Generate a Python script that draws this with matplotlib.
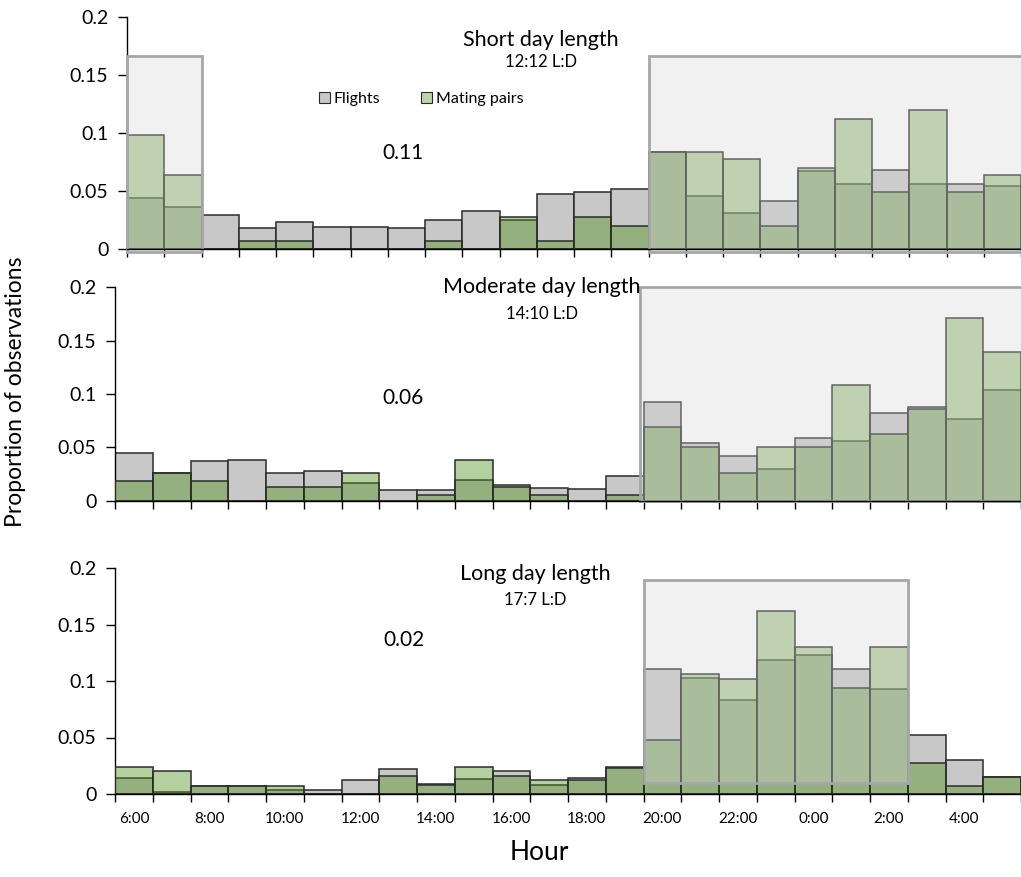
import numpy as np
import matplotlib
matplotlib.use("Agg")
import matplotlib.pyplot as plt
from matplotlib.patches import Rectangle, Patch

plt.rcParams["font.family"] = ["Lato", "DejaVu Sans"]

hour_labels = ["6:00", "8:00", "10:00", "12:00", "14:00", "16:00", "18:00",
               "20:00", "22:00", "0:00", "2:00", "4:00"]

# proportions per hour, 6:00 .. 5:00
short_flights = [0.044, 0.036, 0.029, 0.018, 0.023, 0.019, 0.019, 0.018, 0.025, 0.033, 0.025, 0.047,
                 0.049, 0.052, 0.084, 0.046, 0.031, 0.041, 0.067, 0.056, 0.068, 0.056, 0.056, 0.054]
short_mating = [0.098, 0.064, 0.0, 0.007, 0.007, 0.0, 0.0, 0.0, 0.007, 0.0, 0.028, 0.007,
                0.028, 0.020, 0.084, 0.084, 0.078, 0.020, 0.070, 0.112, 0.049, 0.120, 0.049, 0.064]

moderate_flights = [0.0445, 0.026, 0.037, 0.038, 0.026, 0.028, 0.0165, 0.010, 0.010, 0.020, 0.015, 0.012,
                    0.011, 0.023, 0.0925, 0.054, 0.042, 0.030, 0.059, 0.056, 0.082, 0.088, 0.077, 0.104]
moderate_mating = [0.019, 0.026, 0.019, 0.0, 0.013, 0.013, 0.026, 0.0, 0.006, 0.038, 0.013, 0.006,
                   0.0, 0.006, 0.069, 0.0505, 0.026, 0.0505, 0.0505, 0.108, 0.063, 0.086, 0.171, 0.1395]

long_flights = [0.0145, 0.002, 0.007, 0.0075, 0.0035, 0.0035, 0.0125, 0.022, 0.009, 0.0135, 0.020, 0.008,
                0.0145, 0.024, 0.1105, 0.103, 0.083, 0.1185, 0.123, 0.1105, 0.093, 0.052, 0.030, 0.015]
long_mating = [0.0235, 0.020, 0.0075, 0.0075, 0.0075, 0.0, 0.0, 0.0155, 0.008, 0.0235, 0.0155, 0.012,
               0.012, 0.023, 0.048, 0.106, 0.1015, 0.162, 0.130, 0.0935, 0.130, 0.027, 0.0075, 0.015]

titles = ["Short day length", "Moderate day length", "Long day length"]
photoperiods = ["12:12 L:D", "14:10 L:D", "17:7 L:D"]
p_values = ["0.11", "0.06", "0.02"]

W, H = 1021, 877
fig = plt.figure(figsize=(W / 100, H / 100), dpi=100)

def px(x0, y_top, y_bot):
    return [x0 / W, 1 - y_bot / H, 1 - x0 / W, (y_bot - y_top) / H]

axes = [fig.add_axes(px(127, 17, 249)),
        fig.add_axes(px(115, 287, 501)),
        fig.add_axes(px(115, 568, 794))]
xmax = [23.38, 23.28, 23.28]

gray = "#c8c8c8"
green = (0.30, 0.57, 0.11, 0.42)
edge = "#2b2b2b"

# night boxes: (x0, x1, y0, y1)
boxes = [[(-0.5, 1.52, -0.003, 0.166), (13.5, 24.5, -0.003, 0.166)],
         [(13.4, 24.5, 0.0, 0.2)],
         [(13.5, 20.5, 0.01, 0.189)]]

data = [(short_flights, short_mating), (moderate_flights, moderate_mating),
        (long_flights, long_mating)]

x = np.arange(24)
for i, ax in enumerate(axes):
    fl, mp = data[i]
    ax.bar(x, fl, width=1.0, color=gray, edgecolor=edge, linewidth=1.1, zorder=2)
    ax.bar(x, mp, width=1.0, facecolor=green, edgecolor=edge, linewidth=1.1, zorder=3)
    for (bx0, bx1, by0, by1) in boxes[i]:
        ax.add_patch(Rectangle((bx0, by0), bx1 - bx0, by1 - by0,
                               facecolor=(0.84, 0.84, 0.84, 0.33), edgecolor="#a6a6a6",
                               linewidth=2, zorder=5, clip_on=False))
    ax.set_xlim(-0.5, xmax[i])
    ax.set_ylim(0, 0.2)
    ax.set_yticks([0, 0.05, 0.1, 0.15, 0.2])
    ax.set_yticklabels(["0", "0.05", "0.1", "0.15", "0.2"])
    ax.tick_params(axis="y", direction="out", length=6.5, width=1, labelsize=14, pad=7)
    ax.set_xticks(np.arange(-0.5, 24, 1))
    ax.set_xticklabels([])
    ax.tick_params(axis="x", which="major", direction="out", length=6, width=1)
    ax.spines["top"].set_visible(False)
    ax.spines["right"].set_visible(False)
    ax.spines["left"].set_linewidth(1)
    ax.spines["bottom"].set_linewidth(1)
    ax.spines["bottom"].set_zorder(6)

axes[2].set_xticks(np.arange(0, 24, 2), minor=True)
axes[2].set_xticklabels(hour_labels, minor=True)
axes[2].tick_params(axis="x", which="minor", length=0, labelsize=11, pad=13)

def ftext(xp, yp, s, **kw):
    fig.text(xp / W, 1 - yp / H, s, ha="center", va="center", **kw)

title_pos = [(541, 40, 62), (542, 287, 314), (535, 574, 600)]
pval_pos = [(403, 153), (403, 398), (404, 640)]
for i in range(3):
    tx, ty, sy = title_pos[i]
    ftext(tx, ty, titles[i], fontsize=15.5)
    ftext(tx, sy, photoperiods[i], fontsize=12)
    ftext(pval_pos[i][0], pval_pos[i][1], p_values[i], fontsize=15)

ftext(16, 392, "Proportion of observations", fontsize=16.5, rotation=90)
ftext(539, 853, "Hour", fontsize=19)

handles = [Patch(facecolor=gray, edgecolor=edge, linewidth=0.8),
           Patch(facecolor="#bcd4a8", edgecolor=edge, linewidth=0.8)]
fig.legend(handles, ["Flights", "Mating pairs"], loc="center",
           bbox_to_anchor=(421 / W, 1 - 99 / H), ncol=2, frameon=False,
           fontsize=11.5, handlelength=0.7, handleheight=0.7, handletextpad=0.2,
           columnspacing=2.6)

fig.savefig("out.png", dpi=100)
